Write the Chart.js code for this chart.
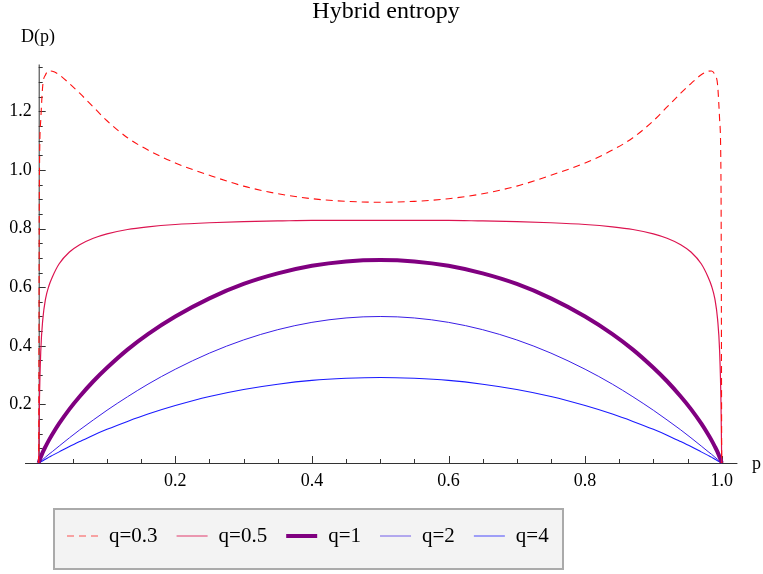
<!DOCTYPE html>
<html>
<head>
<meta charset="utf-8">
<title>Hybrid entropy</title>
<script src="https://cdn.jsdelivr.net/npm/chart.js@4.4.1/dist/chart.umd.min.js"></script>
<style>
    html, body { margin: 0; padding: 0; background: #fff; }
    #wrap { width: 763px; height: 574px; position: relative; }
</style>
</head>
<body>
<div id="wrap"><canvas id="chart"></canvas></div>
<script>
// sample points along p (denser near the ends where the curves are steep)
var pValues = [0, 0.001, 0.003, 0.006, 0.01, 0.015, 0.02, 0.03, 0.045, 0.06, 0.08, 0.1, 0.13, 0.16, 0.2, 0.25, 0.3, 0.35, 0.4, 0.45, 0.5,
    0.55, 0.6, 0.65, 0.7, 0.75, 0.8, 0.84, 0.87, 0.9, 0.92, 0.94, 0.955, 0.97, 0.98, 0.985, 0.99, 0.994, 0.997, 0.999, 1];

var dq03 = [0, 0.95, 1.17, 1.29, 1.325, 1.338, 1.337, 1.325, 1.295, 1.262, 1.215, 1.168, 1.11, 1.068, 1.024, 0.982, 0.945, 0.919, 0.902, 0.893, 0.890,
    0.893, 0.902, 0.919, 0.945, 0.982, 1.024, 1.068, 1.11, 1.168, 1.215, 1.262, 1.295, 1.325, 1.337, 1.338, 1.325, 1.29, 1.17, 0.95, 0];
var dq05 = [0, 0.2, 0.38, 0.49, 0.56, 0.605, 0.635, 0.68, 0.72, 0.745, 0.767, 0.782, 0.797, 0.806, 0.814, 0.82, 0.824, 0.826, 0.828, 0.828, 0.828,
    0.828, 0.828, 0.826, 0.824, 0.82, 0.814, 0.806, 0.797, 0.782, 0.767, 0.745, 0.72, 0.68, 0.635, 0.605, 0.56, 0.49, 0.38, 0.2, 0];
var dq1 = [0, 0.008, 0.020, 0.037, 0.056, 0.078, 0.098, 0.135, 0.184, 0.227, 0.279, 0.325, 0.387, 0.440, 0.500, 0.562, 0.611, 0.647, 0.673, 0.688, 0.693,
    0.688, 0.673, 0.647, 0.611, 0.562, 0.500, 0.440, 0.387, 0.325, 0.279, 0.227, 0.184, 0.135, 0.098, 0.078, 0.056, 0.037, 0.020, 0.008, 0];
var dq2 = [0, 0.002, 0.006, 0.012, 0.020, 0.030, 0.039, 0.058, 0.086, 0.113, 0.147, 0.180, 0.226, 0.269, 0.320, 0.375, 0.420, 0.455, 0.480, 0.495, 0.500,
    0.495, 0.480, 0.455, 0.420, 0.375, 0.320, 0.269, 0.226, 0.180, 0.147, 0.113, 0.086, 0.058, 0.039, 0.030, 0.020, 0.012, 0.006, 0.002, 0];
var dq4 = [0, 0.001, 0.004, 0.008, 0.013, 0.020, 0.026, 0.038, 0.056, 0.073, 0.095, 0.115, 0.142, 0.167, 0.196, 0.227, 0.251, 0.269, 0.282, 0.289, 0.292,
    0.289, 0.282, 0.269, 0.251, 0.227, 0.196, 0.167, 0.142, 0.115, 0.095, 0.073, 0.056, 0.038, 0.026, 0.020, 0.013, 0.008, 0.004, 0.001, 0];

var seriesLabels = ["q=0.3", "q=0.5", "q=1", "q=2", "q=4"];
var xTicks = [0.2, 0.4, 0.6, 0.8, 1.0];
var yTicks = [0.2, 0.4, 0.6, 0.8, 1.0, 1.2];

var serif = '"Liberation Serif", "Times New Roman", serif';

function points(ys) {
    return pValues.map(function (p, i) { return { x: p, y: ys[i] }; });
}

function line(label, ys, color, width, dash) {
    return {
        label: label,
        data: points(ys),
        borderColor: color,
        backgroundColor: color,
        borderWidth: width,
        borderDash: dash || [],
        pointRadius: 0,
        cubicInterpolationMode: "monotone",
        clip: 8
    };
}

// axes, minor ticks, title, axis names and the boxed legend
var decorations = {
    id: "decorations",
    beforeDraw: function (chart) {
        var ctx = chart.ctx;
        ctx.save();
        ctx.fillStyle = "#fff";
        ctx.fillRect(0, 0, chart.width, chart.height);
        ctx.restore();
    },
    beforeDatasetsDraw: function (chart) {
        var ctx = chart.ctx, xs = chart.scales.x, ys = chart.scales.y;
        var x0 = xs.getPixelForValue(0), y0 = ys.getPixelForValue(0);
        ctx.save();
        ctx.strokeStyle = "#333";
        ctx.lineWidth = 1;
        ctx.beginPath();
        ctx.moveTo(xs.getPixelForValue(-0.02), y0 + 0.5);
        ctx.lineTo(xs.getPixelForValue(1.023), y0 + 0.5);
        ctx.moveTo(x0 + 0.5, y0);
        ctx.lineTo(x0 + 0.5, ys.getPixelForValue(1.36));
        var i, v, len, px;
        for (i = 1; i <= 20; i++) {
            v = i * 0.05;
            len = (i % 4 === 0) ? 7 : 4;
            px = Math.round(xs.getPixelForValue(v)) + 0.5;
            ctx.moveTo(px, y0);
            ctx.lineTo(px, y0 - len);
        }
        for (i = 1; i <= 27; i++) {
            v = i * 0.05;
            len = (i % 4 === 0) ? 7 : 4;
            px = Math.round(ys.getPixelForValue(v)) + 0.5;
            ctx.moveTo(x0, px);
            ctx.lineTo(x0 + len, px);
        }
        ctx.stroke();
        ctx.restore();
    },
    afterDraw: function (chart) {
        var ctx = chart.ctx;
        ctx.save();
        ctx.fillStyle = "#000";
        ctx.textBaseline = "alphabetic";
        ctx.font = "24px " + serif;
        ctx.textAlign = "center";
        ctx.fillText("Hybrid entropy", 386, 18);
        ctx.textAlign = "left";
        ctx.font = "18px " + serif;
        ctx.fillText("D(p)", 21, 42);
        ctx.fillText("p", 752, 469);

        // legend box
        ctx.fillStyle = "#f3f3f3";
        ctx.fillRect(54, 509, 509, 60);
        ctx.strokeStyle = "#aaa";
        ctx.lineWidth = 2;
        ctx.strokeRect(54, 509, 509, 60);

        ctx.font = "21px " + serif;
        ctx.textBaseline = "middle";
        var x = 67, y = 536;
        chart.data.datasets.forEach(function (ds) {
            ctx.save();
            ctx.strokeStyle = ds.borderColor;
            ctx.lineWidth = ds.borderWidth;
            ctx.globalAlpha = ds.borderWidth < 2 ? 0.7 : 1;
            ctx.setLineDash(ds.borderDash);
            ctx.beginPath();
            ctx.moveTo(x, y);
            ctx.lineTo(x + 31, y);
            ctx.stroke();
            ctx.restore();
            ctx.fillStyle = "#000";
            ctx.fillText(ds.label, x + 42, y);
            x += 42 + ctx.measureText(ds.label).width + 19;
        });
        ctx.restore();
    }
};

var chart = new Chart(document.getElementById("chart").getContext("2d"), {
    type: "line",
    data: {
        datasets: [
            line(seriesLabels[0], dq03, "#ff1010", 1.1, [7, 5]),
            line(seriesLabels[1], dq05, "#dc1450", 1.2),
            line(seriesLabels[2], dq1, "#800080", 4),
            line(seriesLabels[3], dq2, "#3a1ee6", 1),
            line(seriesLabels[4], dq4, "#1a1aff", 1.1)
        ]
    },
    options: {
        responsive: true,
        maintainAspectRatio: false,
        animation: false,
        layout: { padding: { left: 0, top: 64.5, right: 41.3, bottom: 0 } },
        plugins: {
            legend: { display: false },
            title: { display: false },
            tooltip: { enabled: false }
        },
        scales: {
            x: {
                type: "linear",
                min: 0,
                max: 1,
                afterFit: function (s) { s.height = 111; },
                afterBuildTicks: function (s) { s.ticks = xTicks.map(function (v) { return { value: v }; }); },
                grid: { display: false, drawTicks: false },
                border: { display: false },
                ticks: {
                    padding: 7,
                    color: "#000",
                    font: { family: serif, size: 18 },
                    maxRotation: 0,
                    callback: function (v) { return v.toFixed(1); }
                }
            },
            y: {
                type: "linear",
                min: 0,
                max: 1.36,
                afterFit: function (s) { s.width = 38.7; },
                afterBuildTicks: function (s) { s.ticks = yTicks.map(function (v) { return { value: v }; }); },
                grid: { display: false, drawTicks: false },
                border: { display: false },
                ticks: {
                    padding: 7,
                    color: "#000",
                    font: { family: serif, size: 18 },
                    callback: function (v) { return v.toFixed(1); }
                }
            }
        }
    },
    plugins: [decorations]
});
</script>
</body>
</html>
